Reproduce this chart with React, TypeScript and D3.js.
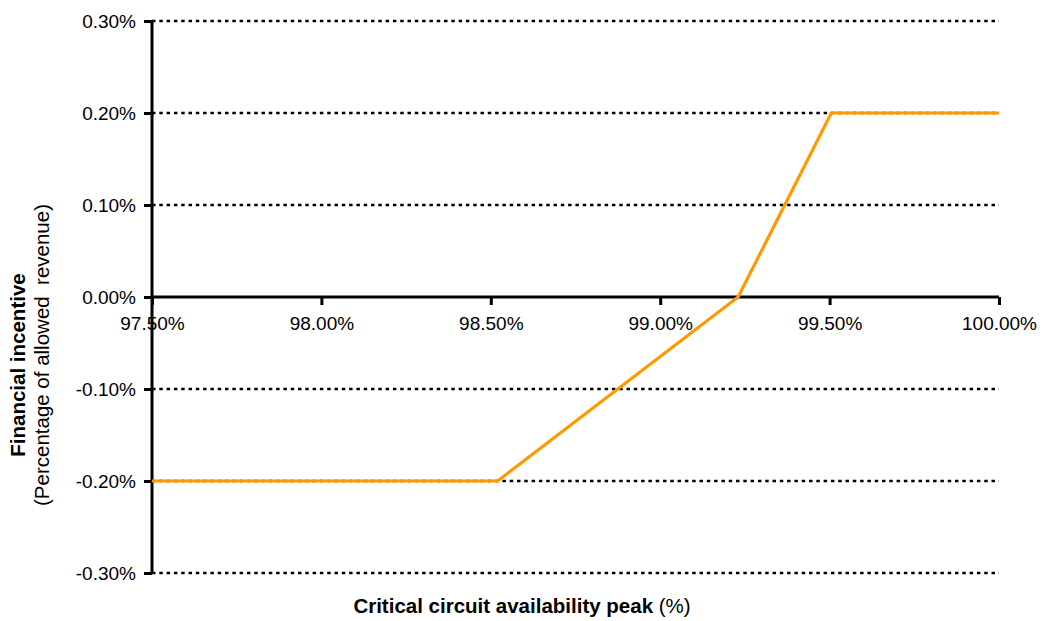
import { useEffect, useRef } from 'react';
import * as d3 from 'd3';

// availability (%) vs financial incentive (% of allowed revenue)
const availability = [97.5, 98.52, 99.23, 99.505, 100.0];
const incentive = [-0.2, -0.2, 0.0, 0.2, 0.2];
const xTicks = [97.5, 98.0, 98.5, 99.0, 99.5, 100.0];
const yTicks = [-0.3, -0.2, -0.1, 0.0, 0.1, 0.2, 0.3];

export default function App() {
  const ref = useRef<SVGSVGElement>(null);

  useEffect(() => {
    if (!ref.current) return;
    const svg = d3.select(ref.current);
    svg.selectAll('*').remove();

    const width = 1045;
    const height = 621;
    const margin = { top: 21, right: 46, bottom: 48, left: 152 };
    const innerW = width - margin.left - margin.right;
    const innerH = height - margin.top - margin.bottom;
    const font = 'Liberation Sans, Arial, sans-serif';

    const x = d3.scaleLinear().domain([97.5, 100]).range([0, innerW]);
    const y = d3.scaleLinear().domain([-0.3, 0.3]).range([innerH, 0]);

    const g = svg.append('g').attr('transform', `translate(${margin.left},${margin.top})`);

    // dotted gridlines
    g.selectAll('.grid')
      .data(yTicks.filter(d => d !== 0))
      .enter()
      .append('line')
      .attr('x1', 0)
      .attr('x2', innerW)
      .attr('y1', d => y(d))
      .attr('y2', d => y(d))
      .attr('stroke', '#000')
      .attr('stroke-width', 2.3)
      .attr('stroke-dasharray', '3.5,3.8');

    // y axis
    const yAxis = g.append('g')
      .call(d3.axisLeft(y).tickValues(yTicks).tickSize(8).tickPadding(8)
        .tickFormat(d => `${(+d).toFixed(2)}%`));
    yAxis.select('.domain').attr('stroke-width', 3).attr('d', `M0,${innerH}V0`);
    yAxis.selectAll('line').attr('stroke-width', 3);
    yAxis.selectAll('text').attr('font-family', font).attr('font-size', 19).attr('fill', '#000');

    // x axis at zero
    const xAxis = g.append('g')
      .attr('transform', `translate(0,${y(0)})`)
      .call(d3.axisBottom(x).tickValues(xTicks).tickSize(8).tickPadding(12)
        .tickFormat(d => `${(+d).toFixed(2)}%`));
    xAxis.select('.domain').attr('stroke-width', 3).attr('d', `M0,0H${innerW}`);
    xAxis.selectAll('line').attr('stroke-width', 3);
    xAxis.selectAll('text').attr('font-family', font).attr('font-size', 19).attr('fill', '#000');

    // incentive line
    const pts = availability.map((a, i) => ({ a, v: incentive[i] }));
    const line = d3.line<{ a: number; v: number }>()
      .x(d => x(d.a))
      .y(d => y(d.v));
    g.append('path')
      .datum(pts)
      .attr('fill', 'none')
      .attr('stroke', '#FF9900')
      .attr('stroke-width', 3.2)
      .attr('d', line);

    // x title
    const xt = svg.append('text')
      .attr('x', 522)
      .attr('y', 613)
      .attr('text-anchor', 'middle')
      .attr('font-family', font)
      .attr('font-size', 20.5)
      .attr('fill', '#000');
    xt.append('tspan').attr('font-weight', 'bold').text('Critical circuit availability peak');
    xt.append('tspan').text(' (%)');

    // y title
    svg.append('text')
      .attr('transform', 'translate(25,365) rotate(-90)')
      .attr('text-anchor', 'middle')
      .attr('font-family', font)
      .attr('font-size', 20.5)
      .attr('font-weight', 'bold')
      .attr('fill', '#000')
      .text('Financial incentive');
    svg.append('text')
      .attr('transform', 'translate(49,355) rotate(-90)')
      .attr('text-anchor', 'middle')
      .attr('font-family', font)
      .attr('font-size', 20.5)
      .attr('fill', '#000')
      .attr('xml:space', 'preserve')
      .style('white-space', 'pre')
      .text('(Percentage of allowed  revenue)');
  }, []);

  return (
    <div style={{ position: 'absolute', left: 0, top: 0, background: '#fff' }}>
      <svg ref={ref} width={1045} height={621} style={{ display: 'block' }} />
    </div>
  );
}
